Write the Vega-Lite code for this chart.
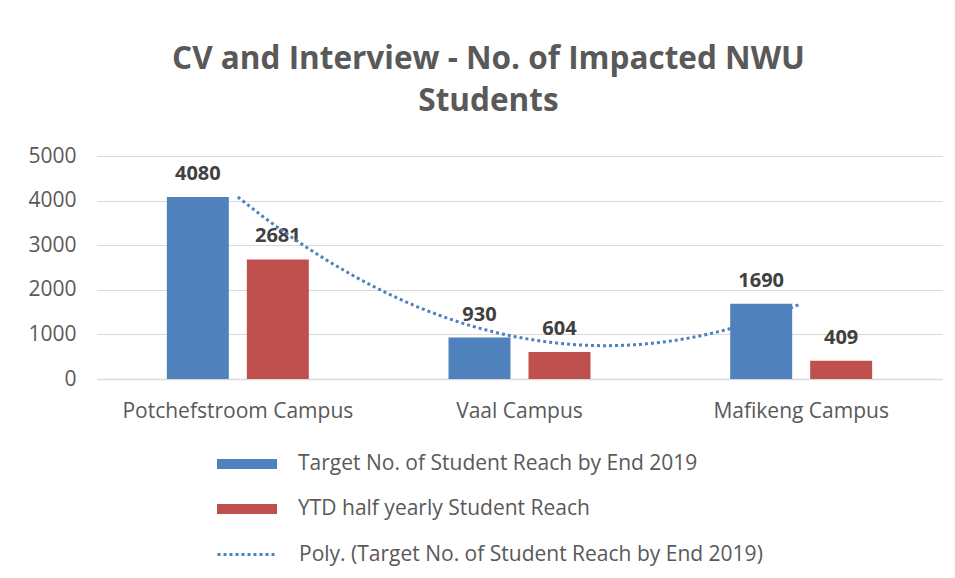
{
  "$schema": "https://vega.github.io/schema/vega-lite/v6.json",
  "width": 845,
  "height": 223,
  "autosize": {"type": "none"},
  "padding": {"left": 97, "top": 156, "right": 13, "bottom": 199},
  "background": "white",
  "config": {
    "view": {"stroke": null},
    "font": "Open Sans"
  },
  "title": {
    "text": ["CV and Interview - No. of Impacted NWU", "Students"],
    "font": "Open Sans",
    "fontSize": 31.5,
    "fontWeight": "bold",
    "color": "#595959",
    "lineHeight": 42,
    "anchor": "middle",
    "dx": -31,
    "offset": 28
  },
  "data": {
    "values": [
      {"campus": "Potchefstroom Campus", "idx": 1, "series": "Target No. of Student Reach  by End 2019", "value": 4080},
      {"campus": "Potchefstroom Campus", "idx": 1, "series": "YTD half yearly Student Reach", "value": 2681},
      {"campus": "Vaal Campus", "idx": 2, "series": "Target No. of Student Reach  by End 2019", "value": 930},
      {"campus": "Vaal Campus", "idx": 2, "series": "YTD half yearly Student Reach", "value": 604},
      {"campus": "Mafikeng Campus", "idx": 3, "series": "Target No. of Student Reach  by End 2019", "value": 1690},
      {"campus": "Mafikeng Campus", "idx": 3, "series": "YTD half yearly Student Reach", "value": 409}
    ]
  },
  "resolve": {"scale": {"x": "independent"}},
  "layer": [
    {
      "encoding": {
        "x": {
          "field": "campus",
          "type": "nominal",
          "sort": ["Potchefstroom Campus", "Vaal Campus", "Mafikeng Campus"],
          "scale": {"paddingInner": 0.496, "paddingOuter": 0.248},
          "axis": {
            "title": null,
            "labelAngle": 0,
            "labelFontSize": 21,
            "labelColor": "#595959",
            "labelPadding": 21,
            "labelLimit": 400,
            "ticks": false,
            "domain": true,
            "domainColor": "#d9d9d9",
            "domainWidth": 1.5,
            "grid": false
          }
        },
        "xOffset": {
          "field": "series",
          "type": "nominal",
          "sort": ["Target No. of Student Reach  by End 2019", "YTD half yearly Student Reach"],
          "scale": {"paddingInner": 0.225, "paddingOuter": 0}
        },
        "y": {
          "field": "value",
          "type": "quantitative",
          "scale": {"domain": [0, 5000], "nice": false},
          "axis": {
            "title": null,
            "values": [0, 1000, 2000, 3000, 4000, 5000],
            "format": "d",
            "labelFontSize": 21,
            "labelColor": "#595959",
            "labelPadding": 21,
            "ticks": false,
            "domain": false,
            "grid": true,
            "gridColor": "#d9d9d9",
            "gridWidth": 1
          }
        }
      },
      "layer": [
        {
          "mark": {"type": "bar"},
          "encoding": {
            "color": {
              "field": "series",
              "type": "nominal",
              "scale": {
                "domain": [
                  "Target No. of Student Reach  by End 2019",
                  "YTD half yearly Student Reach"
                ],
                "range": ["#4F81BD", "#C0504D"]
              },
              "legend": {
                "orient": "none",
                "legendX": 139,
                "legendY": 297,
                "direction": "vertical",
                "title": null,
                "symbolSize": 400,
                "symbolType": "M-3,-0.5H3V0.5H-3Z",
                "symbolOpacity": 1,
                "labelFontSize": 21,
                "labelColor": "#595959",
                "labelOffset": 40,
                "rowPadding": 24,
                "labelLimit": 600
              }
            }
          }
        },
        {
          "mark": {
            "type": "text",
            "baseline": "alphabetic",
            "dy": -17,
            "fontSize": 20,
            "fontWeight": "bold",
            "color": "#404040"
          },
          "encoding": {
            "text": {"field": "value", "type": "quantitative", "format": "d"}
          }
        }
      ]
    },
    {
      "transform": [
        {"filter": "datum.series === 'Target No. of Student Reach  by End 2019'"},
        {"regression": "value", "on": "idx", "method": "poly", "order": 2, "extent": [1, 3]}
      ],
      "mark": {
        "type": "line",
        "strokeWidth": 3,
        "color": "#4F81BD"
      },
      "encoding": {
        "x": {
          "field": "idx",
          "type": "quantitative",
          "scale": {"domain": [0.5, 3.5], "nice": false, "zero": false},
          "axis": null
        },
        "y": {"field": "value", "type": "quantitative", "scale": {"domain": [0, 5000], "nice": false}},
        "strokeDash": {
          "datum": "Poly. (Target No. of Student Reach  by End 2019)",
          "scale": {"range": [[3, 3]]},
          "legend": {
            "orient": "none",
            "legendX": 139,
            "legendY": 387,
            "title": null,
            "symbolSize": 400,
            "symbolType": "M-3,0H3",
            "symbolStrokeColor": "#4F81BD",
            "symbolStrokeWidth": 3,
            "labelFontSize": 21,
            "labelColor": "#595959",
            "labelOffset": 40,
            "labelLimit": 600
          }
        }
      }
    }
  ]
}
